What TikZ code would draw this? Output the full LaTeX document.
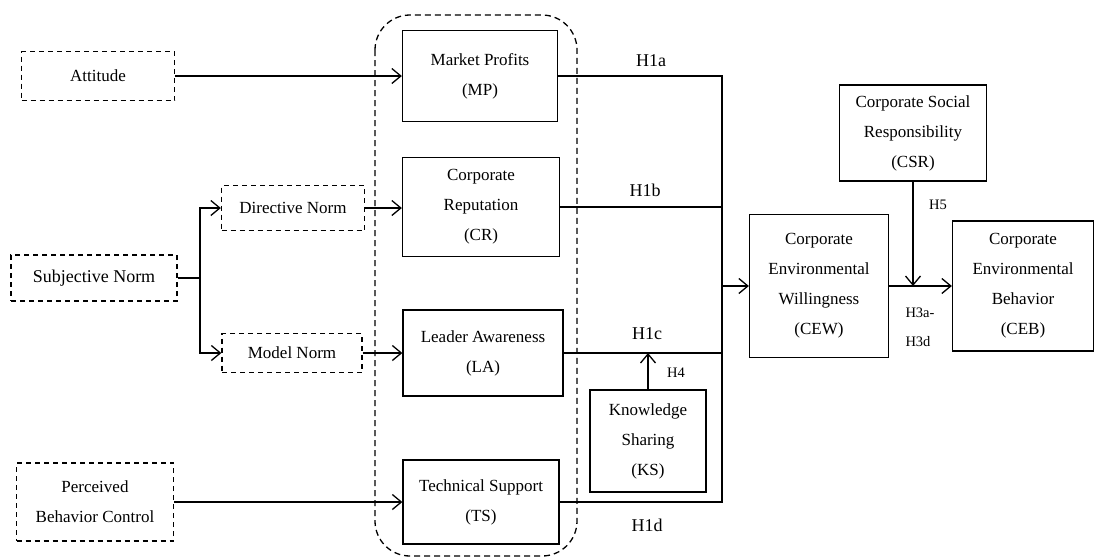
\documentclass[tikz,border=0pt]{standalone}
\usepackage{fontspec}
\setmainfont{Liberation Serif}
\usetikzlibrary{arrows.meta}
\tikzset{
box/.style={draw,line width=1.3pt,align=center,font=\fontsize{17}{30}\selectfont,inner sep=0pt},
dbox/.style={box,dashed,dash pattern=on 5pt off 4pt},
arr/.style={-{Straight Barb[length=9pt,width=15pt,line width=1.3pt]}},
link/.style={line width=1.3pt},
hlab/.style={font=\fontsize{18}{20}\selectfont},
slab/.style={font=\fontsize{14.5}{16}\selectfont}
}
\begin{document}
\begin{tikzpicture}[x=1pt,y=-1pt]
\useasboundingbox (0,0) rectangle (1094,558);

\draw[link,dashed,dash pattern=on 6pt off 4pt,rounded corners=35pt] (375,15) rectangle (577,556);

\node[dbox,minimum width=153pt,minimum height=49pt] (att) at (98,76) {Attitude};
\node[dbox,minimum width=166pt,minimum height=46pt,font=\fontsize{18}{30}\selectfont] (sn) at (94,278) {Subjective Norm};
\node[dbox,minimum width=143pt,minimum height=45pt] (dn) at (293,208) {Directive Norm};
\node[dbox,minimum width=140pt,minimum height=39pt] (mn) at (292,353) {Model Norm};
\node[dbox,minimum width=157pt,minimum height=78pt] (pbc) at (95,502) {Perceived\\Behavior Control};

\node[box,minimum width=155pt,minimum height=91pt] (mp) at (480,76) {Market Profits\\(MP)};
\node[box,minimum width=157pt,minimum height=99pt] (cr) at (481,207) {Corporate\\Reputation\\(CR)};
\node[box,minimum width=160pt,minimum height=86pt] (la) at (483,353) {Leader Awareness\\(LA)};
\node[box,minimum width=156pt,minimum height=84pt] (ts) at (481,502) {Technical Support\\(TS)};
\node[box,minimum width=116pt,minimum height=102pt] (ks) at (648,441) {Knowledge\\Sharing\\(KS)};
\node[box,minimum width=139pt,minimum height=143pt] (cew) at (819,286) {Corporate\\Environmental\\Willingness\\(CEW)};
\node[box,minimum width=147pt,minimum height=96pt] (csr) at (913,133) {Corporate Social\\Responsibility\\(CSR)};
\node[box,minimum width=141pt,minimum height=130pt] (ceb) at (1023,286) {Corporate\\Environmental\\Behavior\\(CEB)};

\coordinate (bus) at (722,286);
\coordinate (split) at (200,278);

\draw[link,arr] (att.east) -- (mp.west);
\draw[link] (sn.east) -- (split);
\draw[link,arr] (split) |- (dn.west);
\draw[link,arr] (split) |- (mn.west);
\draw[link,arr] (dn.east) -- (cr.west |- dn.east);
\draw[link,arr] (mn.east) -- (la.west |- mn.east);
\draw[link,arr] (pbc.east) -- (ts.west);

\draw[link] (mp.east) -| (bus);
\draw[link] (cr.east) -| (bus);
\draw[link] (la.east) -| (bus);
\draw[link] (ts.east) -| (bus);
\draw[link,arr] (bus) -- (cew.west);
\draw[link,arr] (ks.north) -- (ks.north |- la.east);
\draw[link,arr] (cew.east) -- (ceb.west);
\draw[link,arr] (csr.south) -- (csr.south |- cew.east);

\node[hlab] (h1a) at (651,61) {H1a};
\node[hlab] (h1b) at (645,190) {H1b};
\node[hlab] (h1c) at (647,334) {H1c};
\node[hlab] (h1d) at (647,525) {H1d};
\node[slab] (h4) at (676,373) {H4};
\node[slab] (h5) at (938,205) {H5};
\node[slab,align=left,font=\fontsize{14.5}{29}\selectfont] (h3) at (920,327) {H3a-\\H3d};
\end{tikzpicture}
\end{document}
